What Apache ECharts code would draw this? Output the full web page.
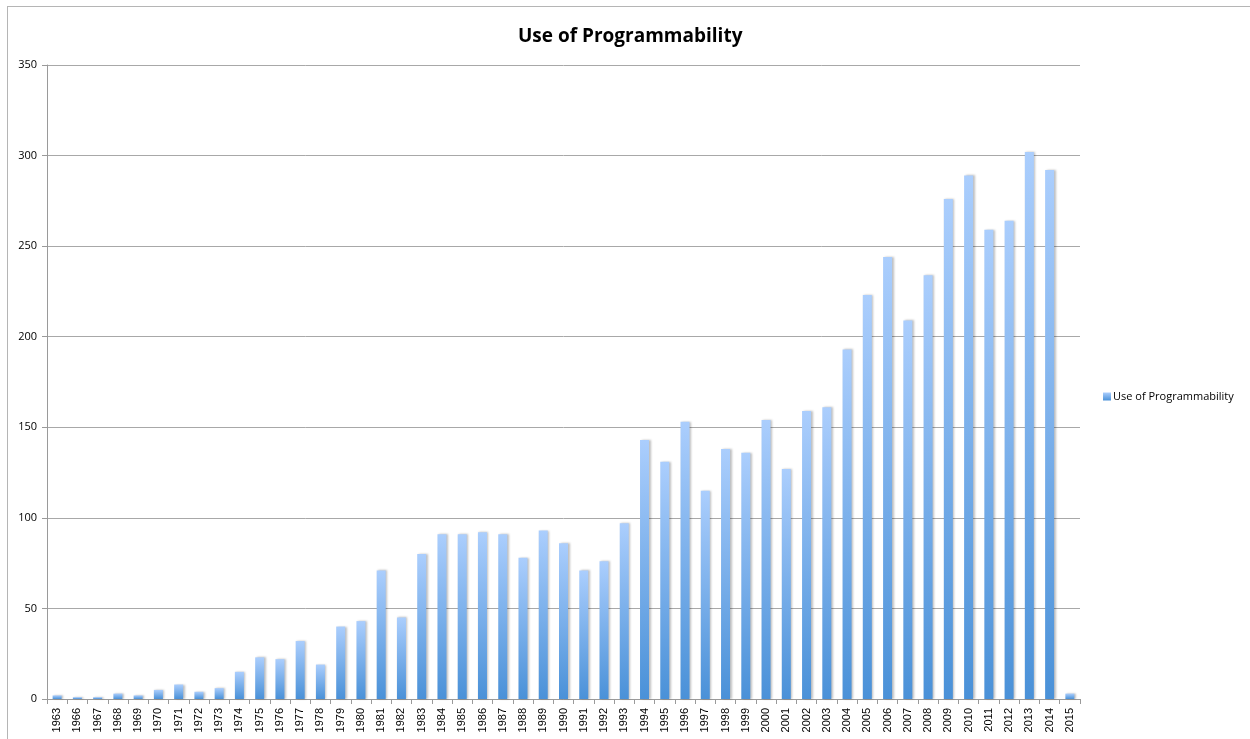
<!DOCTYPE html>
<html>
<head>
<meta charset="utf-8">
<script src="https://cdn.jsdelivr.net/npm/echarts@6/dist/echarts.min.js"></script>
<style>
html,body{margin:0;padding:0;background:#fff;}
#frame{position:absolute;left:7px;top:6px;width:1260px;height:760px;border:1px solid #b5b5b5;box-sizing:border-box;}
#chart{position:absolute;left:0;top:0;width:1250px;height:739px;}
</style>
</head>
<body>
<div id="frame"></div>
<div id="chart"></div>
<script>
const years = ['1963','1966','1967','1968','1969','1970','1971','1972','1973','1974','1975','1976','1977','1978','1979','1980','1981','1982','1983','1984','1985','1986','1987','1988','1989','1990','1991','1992','1993','1994','1995','1996','1997','1998','1999','2000','2001','2002','2003','2004','2005','2006','2007','2008','2009','2010','2011','2012','2013','2014','2015'];
const useOfProgrammability = [2,1,1,3,2,5,8,4,6,15,23,22,32,19,40,43,71,45,80,91,91,92,91,78,93,86,71,76,97,143,131,153,115,138,136,154,127,159,161,193,223,244,209,234,276,289,259,264,302,292,3];
const yTicks = {min:0, max:350, interval:50};

const chart = echarts.init(document.getElementById('chart'), null, {renderer:'canvas'});
const grad = new echarts.graphic.LinearGradient(0,0,0,1,[
  {offset:0,color:'#abcefd'},
  {offset:1,color:'#4a91d8'}
]);
chart.setOption({
  animation:false,
  backgroundColor:'transparent',
  title:{
    text:'Use of Programmability',
    left:513, top:22,
    textStyle:{fontFamily:'Open Sans, Liberation Sans, sans-serif',fontSize:19,fontWeight:'bold',color:'#000'}
  },
  legend:{
    data:['Use of Programmability'],
    orient:'vertical',
    left:1098, top:386,
    itemWidth:8, itemHeight:8, itemGap:4,
    icon:'rect',
    textStyle:{fontFamily:'Open Sans, Liberation Sans, sans-serif',fontSize:11,color:'#000',padding:[0,0,0,-3]}
  },
  grid:{left:47,right:170,top:65,bottom:40,containLabel:false},
  xAxis:{
    type:'category',
    data:years,
    axisLine:{lineStyle:{color:'#9a9a9a',width:1}},
    axisTick:{show:true,length:5,lineStyle:{color:'#9a9a9a'}},
    axisLabel:{rotate:90,fontSize:11,color:'#000',fontFamily:'Liberation Sans, Arial, sans-serif',margin:9,interval:0}
  },
  yAxis:{
    type:'value',
    min:yTicks.min,max:yTicks.max,interval:yTicks.interval,
    axisLine:{show:true,lineStyle:{color:'#9a9a9a',width:1}},
    axisTick:{show:true,length:5,lineStyle:{color:'#9a9a9a'}},
    axisLabel:{fontSize:11,color:'#000',fontFamily:'Open Sans, Liberation Sans, sans-serif',margin:10},
    splitLine:{show:true,lineStyle:{color:'#a8a8a8',width:1}}
  },
  series:[{
    name:'Use of Programmability',
    type:'bar',
    data:useOfProgrammability,
    barWidth:9,
    itemStyle:{color:grad,shadowColor:'rgba(0,0,0,0.25)',shadowBlur:2,shadowOffsetX:1.5,shadowOffsetY:0}
  }]
});
</script>
</body>
</html>
